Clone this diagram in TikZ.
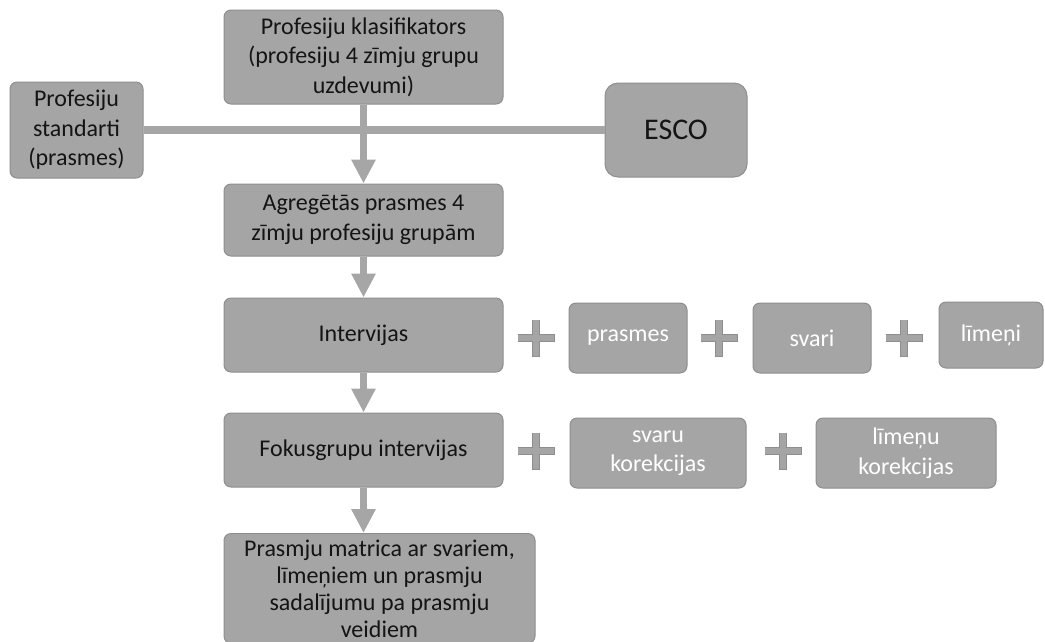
\documentclass[tikz,border=0pt]{standalone}
\usepackage{fontspec}
\setmainfont{Carlito}
\usepackage{xcolor}
\usetikzlibrary{positioning, arrows.meta}
\definecolor{boxgray}{HTML}{A5A5A5}
\definecolor{edgegray}{HTML}{8E8E8E}
\definecolor{linegray}{HTML}{A6A6A6}

\begin{document}
\begin{tikzpicture}[x=1pt, y=-1pt,
    box/.style={draw=edgegray, line width=1pt, fill=boxgray, rounded corners=7pt,
        align=center, inner sep=0pt, text=black!92,
        font=\fontsize{24}{29.5}\selectfont},
    sidebox/.style={box, text=white},
    flow/.style={linegray, line width=7.5pt, -{Triangle[width=23pt, length=24pt]}},
    link/.style={linegray, line width=7.5pt}]

    \useasboundingbox (0,0) rectangle (1045,641);
    \clip (0,0) rectangle (1045,641);

    % Sources on top
    \node[box, minimum width=279pt, minimum height=94pt] (klasif) at (363.5,57)
        {Profesiju klasifikators\\(profesiju 4 zīmju grupu\\uzdevumi)};
    \node[box, minimum width=133pt, minimum height=96pt] (standarti) at (76.5,130)
        {Profesiju\\standarti\\(prasmes)};
    \node[box, rounded corners=13pt, minimum width=142pt, minimum height=94pt,
        font=\fontsize{30}{36}\selectfont] (esco) at (676,130) {ESCO};

    % Main column
    \node[box, minimum width=279pt, minimum height=72pt] (agreg) at (363.5,220)
        {Agregētās prasmes 4\\zīmju profesiju grupām};
    \node[box, minimum width=279pt, minimum height=74pt] (interv) at (363.5,335)
        {Intervijas};
    \node[box, minimum width=279pt, minimum height=74pt] (fokus) at (363.5,450)
        {Fokusgrupu intervijas};
    \node[box, anchor=north, minimum width=311pt, inner ysep=6pt,
        font=\fontsize{24}{27}\selectfont] (matrica) at (379.5,533)
        {Prasmju matrica ar svariem,\\līmeņiem un prasmju\\sadalījumu pa prasmju\\veidiem};

    % Additions to the interviews
    \node[sidebox, minimum width=118pt, minimum height=70pt] (prasmes) at (628,338) {prasmes};
    \node[sidebox, minimum width=118pt, minimum height=70pt] (svari) at (812,338) {svari};
    \node[sidebox, minimum width=104pt, minimum height=66pt] (limeni) at (991,335) {līmeņi};
    \node[sidebox, minimum width=176pt, minimum height=70pt] (svarukor) at (658,453)
        {svaru\\korekcijas};
    \node[sidebox, minimum width=180pt, minimum height=70pt] (limenukor) at (906,453)
        {līmeņu\\korekcijas};

    % Connectors
    \draw[link] (standarti.east) -- (esco.west);
    \draw[flow] (klasif.south) -- (agreg.north);
    \draw[flow] (agreg.south) -- (interv.north);
    \draw[flow] (interv.south) -- (fokus.north);
    \draw[flow] (fokus.south) -- (fokus.south |- matrica.north);

    % Plus signs
    \foreach \px/\py in {536/338, 719/338, 904/338, 536/451, 783/451} {
        \draw[edgegray, line width=8pt] (\px-18.5,\py) -- (\px+18.5,\py)
            (\px,\py-18.5) -- (\px,\py+18.5);
        \draw[boxgray, line width=6pt] (\px-18,\py) -- (\px+18,\py)
            (\px,\py-18) -- (\px,\py+18);
    }

\end{tikzpicture}
\end{document}
